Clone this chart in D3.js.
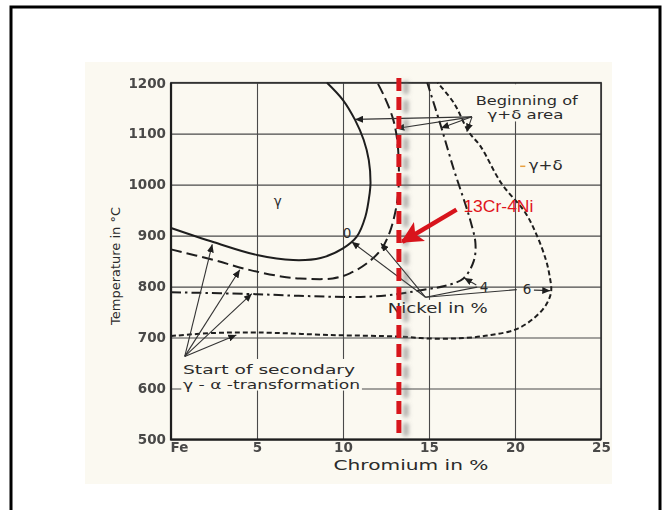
<!DOCTYPE html>
<html><head><meta charset="utf-8">
<script src="https://cdn.jsdelivr.net/npm/d3@7"></script>
<style>html,body{margin:0;padding:0;background:#fff;} svg{display:block}</style>
</head><body>
<svg id="c" width="670" height="510"></svg>
<script>
// ---- axis ticks ----
const crTicks = [0, 5, 10, 15, 20, 25];
const crTickLabels = ["Fe", "5", "10", "15", "20", "25"];
const tempTicks = [500, 600, 700, 800, 900, 1000, 1100, 1200];

// ---- curves: [Cr %, T °C] ----
const ni0 = [[0,915],[2.5,887],[5,862],[7.1,852],[8.7,856],[10.0,875],[10.8,898],[11.3,937],[11.55,983],[11.6,1003],[11.5,1048],[11.2,1088],[10.7,1127],[10.0,1166],[9.07,1200]];
const ni2 = [[0,873],[2.5,852],[4.4,834],[6.4,820],[7.5,816],[9.4,816],[10.4,826],[11.4,846],[12.2,872],[12.7,905],[13.0,940],[13.2,980],[13.25,1029],[13.15,1088],[12.9,1130],[12.4,1173],[12.0,1200]];
const ni4 = [[0,789],[5,785],[8.3,781],[11.4,780],[13.3,786],[14.7,794],[15.9,801],[17.0,816],[17.6,850],[17.7,885],[17.4,930],[17.1,963],[16.45,1029],[15.7,1114],[14.9,1200]];
const ni6 = [[0,703],[2.5,709],[5,710],[9.3,705],[13.2,702],[15.1,698],[17,699],[18.6,705],[20.05,716],[21.1,738],[21.8,764],[22.1,790],[22.0,823],[21.8,852],[21.3,898],[20.6,945],[19.2,1003],[18.0,1075],[17.3,1104],[16.45,1160],[15.5,1200]];

// ---- annotations (data coordinates) ----
const gdJunction = [17.5, 1133];
const gdTargets = [[10.7,1128],[13.1,1110],[15.7,1111],[17.2,1104]];
const startJunction = [0.8, 663];
const startTargets = [[2.4,883],[4.0,833],[4.7,786],[3.8,705]];
const niJunction = [14.8, 779];
const niArrowTargets = [[10.5,888],[12.2,885]];
const niLineTargets = [[17.8,799],[20.1,794]];
const ni4Arrow = [[17.75,803],[17.05,817]];
const ni6Arrow = [[21.1,793],[22.05,792]];
const redLineCr = 13.25;
const redLineT = [1209, 503];
const redArrow = [[16.6,951],[13.45,888]];

const labelTexts = ["Beginning of", "γ+δ area", "γ+δ", "γ", "0", "4", "6", "Nickel in %", "Start of secondary", "γ - α -transformation"];
const labelPos = [[17.72,1156],[18.4,1128],[20.8,1029],[6.2,958],[10.24,895],[18.2,790],[20.7,785],[12.6,748],[0.7,629],[0.7,599]];
const redLabel = "13Cr-4Ni";
const redLabelPos = [17.0, 946];

// ---- drawing ----
const svg = d3.select("#c");
const x = d3.scaleLinear().domain([0,25]).range([171,601]);
const y = d3.scaleLinear().domain([500,1200]).range([439.5,82.7]);
const ink = "#1e1e1e", txt = "#2b2b2b", bg = "#fbf9f1";
const font = "'DejaVu Sans', sans-serif";

const defs = svg.append("defs");
defs.append("marker").attr("id","ah").attr("markerUnits","userSpaceOnUse")
  .attr("markerWidth",9).attr("markerHeight",7).attr("refX",8).attr("refY",3.5).attr("orient","auto")
  .append("path").attr("d","M0,0 L8,3.5 L0,7 Z").attr("fill",ink);
defs.append("marker").attr("id","rah").attr("markerUnits","userSpaceOnUse")
  .attr("markerWidth",24).attr("markerHeight",24).attr("refX",20).attr("refY",12).attr("orient","auto")
  .append("path").attr("d","M0,1 L22,12 L0,23 L5,12 Z").attr("fill","#d8141c");
const f = defs.append("filter").attr("id","sh").attr("filterUnits","userSpaceOnUse")
  .attr("x",370).attr("y",60).attr("width",80).attr("height",400);
f.append("feDropShadow").attr("dx",7).attr("dy",3).attr("stdDeviation",2.2)
  .attr("flood-color","#6a6a6a").attr("flood-opacity",0.55);

// outer frame
svg.append("rect").attr("x",11).attr("y",7).attr("width",649).attr("height",520)
  .attr("fill","none").attr("stroke","#000").attr("stroke-width",3);
// scanned-paper background
svg.append("rect").attr("x",85).attr("y",62).attr("width",527).attr("height",422).attr("fill",bg);

// grid + tick labels via axes
const gy = svg.append("g").attr("transform",`translate(${x(0)},0)`)
  .call(d3.axisLeft(y).tickValues(tempTicks).tickSize(-(x(25)-x(0))).tickPadding(5).tickFormat(d3.format("d")));
const gx = svg.append("g").attr("transform",`translate(0,${y(500)})`)
  .call(d3.axisBottom(x).tickValues(crTicks).tickSize(-(y(500)-y(1200))).tickPadding(3).tickFormat((d,i)=>crTickLabels[i]));
[gx,gy].forEach(g=>{
  g.select(".domain").remove();
  g.selectAll(".tick line").attr("stroke","#4a4a4a").attr("stroke-width",1.1);
  g.selectAll(".tick text").attr("fill",txt).attr("font-family",font).attr("font-size",13.5)
    .attr("font-weight","bold").attr("opacity",0.85);
});
gx.selectAll(".tick text").filter((d,i)=>i===0).attr("text-anchor","start").attr("x",-1);

// plot frame
svg.append("rect").attr("x",x(0)).attr("y",y(1200)).attr("width",x(25)-x(0)).attr("height",y(500)-y(1200))
  .attr("fill","none").attr("stroke","#333").attr("stroke-width",1.6);
svg.append("path").attr("d",`M${x(0)},${y(1200)}V${y(500)}H${x(25)}`).attr("fill","none").attr("stroke",ink).attr("stroke-width",2.2);

// text background patches (hide grid behind labels)
function patch(c0,t0,c1,t1){
  svg.append("rect").attr("x",x(c0)).attr("y",y(t0)).attr("width",x(c1)-x(c0)).attr("height",y(t1)-y(t0)).attr("fill",bg);
}
patch(17.55,1197,23.9,1124);
patch(12.5,774,18.6,743);
patch(0.6,658,11.1,596);

// curves
const line = d3.line().x(d=>x(d[0])).y(d=>y(d[1])).curve(d3.curveCatmullRom.alpha(0.5));
const curves = [[ni0,null],[ni2,"11,5"],[ni4,"10,4,2.5,4"],[ni6,"5,3"]];
curves.forEach(([data,dash])=>{
  svg.append("path").attr("d",line(data)).attr("fill","none").attr("stroke",ink)
    .attr("stroke-width",2).attr("stroke-dasharray",dash);
});

// annotation arrows
function seg(a,b,head){
  svg.append("line").attr("x1",x(a[0])).attr("y1",y(a[1])).attr("x2",x(b[0])).attr("y2",y(b[1]))
    .attr("stroke","#333").attr("stroke-width",1.1).attr("marker-end",head?"url(#ah)":null);
}
gdTargets.forEach(t=>seg(gdJunction,t,true));
startTargets.forEach(t=>seg(startJunction,t,true));
niArrowTargets.forEach(t=>seg(niJunction,t,true));
niLineTargets.forEach(t=>seg(niJunction,t,false));
seg(ni4Arrow[0],ni4Arrow[1],true);
seg(ni6Arrow[0],ni6Arrow[1],true);

// labels
const widths = {"Beginning of":102,"γ+δ area":76,"γ+δ":34,"Nickel in %":100,"Start of secondary":172,"γ - α -transformation":177};
const sizes = {"Beginning of":12,"γ+δ area":12,"Start of secondary":12.5,"γ - α -transformation":12.5};
const centered = {"γ":1,"0":1,"4":1,"6":1};
labelTexts.forEach((t,i)=>{
  const el = svg.append("text").attr("x",x(labelPos[i][0])).attr("y",y(labelPos[i][1]))
    .attr("font-family",font).attr("font-size", sizes[t]||13.5).attr("fill",txt)
    .attr("text-anchor",centered[t]?"middle":"start").text(t);
  if(widths[t]) el.attr("textLength",widths[t]).attr("lengthAdjust","spacingAndGlyphs");
});
// small orange mark before γ+δ
svg.append("line").attr("x1",x(20.3)).attr("x2",x(20.6)).attr("y1",y(1036)).attr("y2",y(1036))
  .attr("stroke","#e8a040").attr("stroke-width",1.5);

// axis titles
svg.append("text").attr("x",(x(0)+x(25))/2+25).attr("y",470).attr("text-anchor","middle")
  .attr("font-family",font).attr("font-size",14).attr("fill",txt)
  .attr("textLength",155).attr("lengthAdjust","spacingAndGlyphs").text("Chromium in %");
svg.append("text").attr("transform","translate(120,266) rotate(-90)").attr("text-anchor","middle")
  .attr("font-family",font).attr("font-size",13).attr("fill",txt)
  .attr("textLength",118).attr("lengthAdjust","spacingAndGlyphs").text("Temperature in °C");

// red 13Cr-4Ni marker
svg.append("line").attr("x1",x(redLineCr)).attr("x2",x(redLineCr)).attr("y1",y(redLineT[0])).attr("y2",y(redLineT[1]))
  .attr("stroke","#d8141c").attr("stroke-width",5).attr("stroke-dasharray","13,6").attr("filter","url(#sh)");
svg.append("line").attr("x1",x(redArrow[0][0])).attr("y1",y(redArrow[0][1])).attr("x2",x(redArrow[1][0])).attr("y2",y(redArrow[1][1]))
  .attr("stroke","#d8141c").attr("stroke-width",4.5).attr("marker-end","url(#rah)");
svg.append("text").attr("x",x(redLabelPos[0])).attr("y",y(redLabelPos[1]))
  .attr("font-family","'Liberation Sans Narrow','Liberation Sans',sans-serif").attr("font-size",17)
  .attr("fill","#e0141c").attr("textLength",70).attr("lengthAdjust","spacingAndGlyphs").text(redLabel);
</script>
</body></html>
